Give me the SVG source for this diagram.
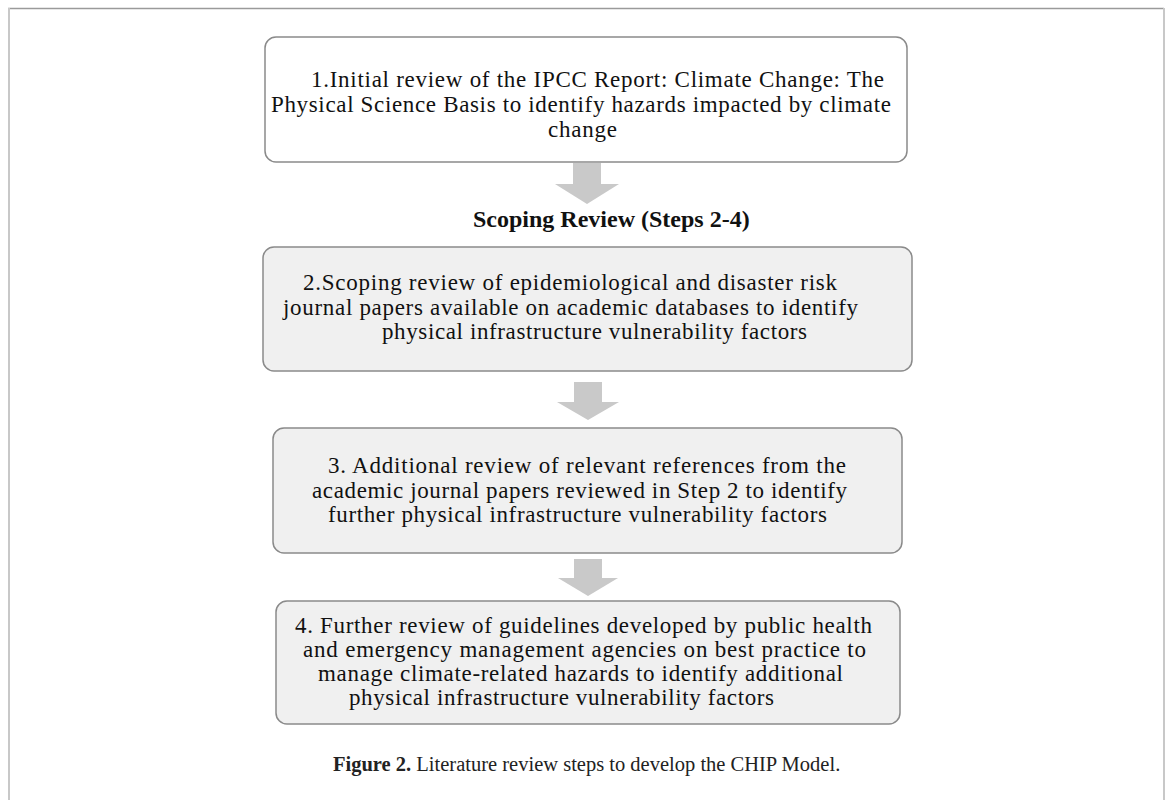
<svg xmlns="http://www.w3.org/2000/svg" width="1171" height="800" viewBox="0 0 1171 800">
<style>
.box{stroke:#8a8a8a;stroke-width:1.5}
.b1{fill:#ffffff}
.bg{fill:#f0f0f0}
.t{font-family:"Liberation Serif","Times New Roman",serif;font-size:23px;fill:#111}
.tb{font-family:"Liberation Serif","Times New Roman",serif;font-size:24px;font-weight:bold;fill:#111}
.cap{font-family:"Liberation Serif","Times New Roman",serif;font-size:20.5px;fill:#222}
.arr{fill:#c9c9c9}
</style>
<rect width="1171" height="800" fill="#ffffff"/>
<g id="frame">
<line x1="8" y1="8.5" x2="1164" y2="8.5" stroke="#9a9a9a" stroke-width="1.5"/>
<line x1="9" y1="8" x2="9" y2="800" stroke="#c8c8c8" stroke-width="2"/>
<line x1="1164" y1="8" x2="1164" y2="800" stroke="#c8c8c8" stroke-width="2"/>
</g>
<g id="connectors">
<path class="arr" d="M573 163 H601 V184 H619 L587 204 L555 184 H573 Z"/>
<path class="arr" d="M574 382 H602 V402 H619 L588 420 L557 402 H574 Z"/>
<path class="arr" d="M574 559 H602 V578 H618 L588 596 L558 578 H574 Z"/>
</g>
<g id="step1">
<rect class="box b1" x="265" y="37" width="642" height="125" rx="11"/>
<text class="t" x="311" y="87" textLength="573">1.Initial review of the IPCC Report: Climate Change: The</text>
<text class="t" x="271" y="112" textLength="620">Physical Science Basis to identify hazards impacted by climate</text>
<text class="t" x="548" y="137" textLength="69">change</text>
</g>
<g id="scoping-label">
<text class="tb" x="473" y="227">Scoping Review (Steps 2-4)</text>
</g>
<g id="step2">
<rect class="box bg" x="263" y="247" width="649" height="124" rx="11"/>
<text class="t" x="303" y="290" textLength="534">2.Scoping review of epidemiological and disaster risk</text>
<text class="t" x="283" y="315" textLength="575">journal papers available on academic databases to identify</text>
<text class="t" x="382" y="339" textLength="425">physical infrastructure vulnerability factors</text>
</g>
<g id="step3">
<rect class="box bg" x="273" y="428" width="629" height="125" rx="11"/>
<text class="t" x="328" y="473" textLength="518">3. Additional review of relevant references from the</text>
<text class="t" x="312" y="498" textLength="535">academic journal papers reviewed in Step 2 to identify</text>
<text class="t" x="328" y="522" textLength="499">further physical infrastructure vulnerability factors</text>
</g>
<g id="step4">
<rect class="box bg" x="276" y="601" width="624" height="123" rx="11"/>
<text class="t" x="295" y="633" textLength="577">4. Further review of guidelines developed by public health</text>
<text class="t" x="303" y="657" textLength="563">and emergency management agencies on best practice to</text>
<text class="t" x="318" y="681" textLength="525">manage climate-related hazards to identify additional</text>
<text class="t" x="349" y="705" textLength="425">physical infrastructure vulnerability factors</text>
</g>
<g id="caption">
<text class="cap" x="333" y="771"><tspan font-weight="bold">Figure 2.</tspan> Literature review steps to develop the CHIP Model.</text>
</g>
</svg>
